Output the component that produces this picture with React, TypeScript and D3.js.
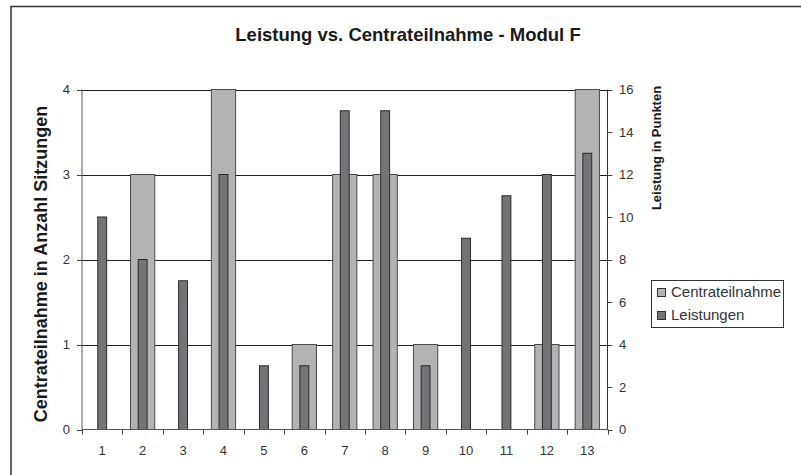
import * as d3 from 'd3';

// Module F: sessions attended vs. points achieved
const sessions = ['1', '2', '3', '4', '5', '6', '7', '8', '9', '10', '11', '12', '13'];
const centrateilnahme = [0, 3, 0, 4, 0, 1, 3, 3, 1, 0, 0, 1, 4];
const leistungen = [10, 8, 7, 12, 3, 3, 15, 15, 3, 9, 11, 12, 13];
const leftTicks = [0, 1, 2, 3, 4];
const rightTicks = [0, 2, 4, 6, 8, 10, 12, 14, 16];

const W = 801;
const H = 475;
const font = 'Liberation Sans, Arial, Helvetica, sans-serif';

const margin = { top: 89.5, left: 82, right: 607.5, bottom: 429.5 };

const App = () => {
    const x = d3.scaleBand<string>()
        .domain(sessions)
        .range([margin.left, margin.right])
        .padding(0);

    const yLeft = d3.scaleLinear().domain([0, 4]).range([margin.bottom, margin.top]);
    const yRight = d3.scaleLinear().domain([0, 16]).range([margin.bottom, margin.top]);

    const bw = x.bandwidth();
    const lightW = bw * 0.6;
    const darkW = bw * 0.22;

    return (
        <svg
            width={W}
            height={H}
            style={{ position: 'absolute', left: 0, top: 0, background: '#fff' }}
            fontFamily={font}
        >
            {/* outer chart frame */}
            <path d={`M11,${H} V6.5 H${W}`} fill="none" stroke="#333" strokeWidth={1.5} />

            <text x={408} y={41} textAnchor="middle" fontSize={18.5} fontWeight="bold" fill="#1a1a1a">
                Leistung vs. Centrateilnahme - Modul F
            </text>

            {/* gridlines */}
            {leftTicks.filter(t => t > 0).map(t => (
                <line key={t} x1={margin.left} x2={margin.right}
                    y1={Math.round(yLeft(t)) + 0.5} y2={Math.round(yLeft(t)) + 0.5}
                    stroke="#222" strokeWidth={1} />
            ))}

            {/* Centrateilnahme bars (left axis) */}
            {centrateilnahme.map((v, i) => v > 0 && (
                <rect key={'c' + i}
                    x={x(sessions[i])! + (bw - lightW) / 2}
                    y={yLeft(v)}
                    width={lightW}
                    height={yLeft(0) - yLeft(v)}
                    fill="#b3b3b6" stroke="#4a4a4a" strokeWidth={1} />
            ))}

            {/* Leistungen bars (right axis) */}
            {leistungen.map((v, i) => (
                <rect key={'l' + i}
                    x={x(sessions[i])! + (bw - darkW) / 2}
                    y={yRight(v)}
                    width={darkW}
                    height={yRight(0) - yRight(v)}
                    fill="#737478" stroke="#2a2a2a" strokeWidth={1} />
            ))}

            {/* axes */}
            <line x1={margin.left} x2={margin.left} y1={margin.top} y2={margin.bottom} stroke="#555" />
            <line x1={margin.right} x2={margin.right} y1={margin.top} y2={margin.bottom} stroke="#333" />
            <line x1={margin.left} x2={margin.right} y1={margin.bottom} y2={margin.bottom} stroke="#555" />

            {leftTicks.map(t => (
                <g key={'lt' + t}>
                    <line x1={margin.left - 5} x2={margin.left}
                        y1={Math.round(yLeft(t)) + 0.5} y2={Math.round(yLeft(t)) + 0.5} stroke="#444" />
                    <text x={70} y={yLeft(t) + 4.5} textAnchor="end" fontSize={13} fill="#333">{t}</text>
                </g>
            ))}

            {rightTicks.map(t => (
                <g key={'rt' + t}>
                    <line x1={margin.right} x2={margin.right + 5}
                        y1={Math.round(yRight(t)) + 0.5} y2={Math.round(yRight(t)) + 0.5} stroke="#444" />
                    <text x={619} y={yRight(t) + 4.5} textAnchor="start" fontSize={13} fill="#333">{t}</text>
                </g>
            ))}

            {d3.range(sessions.length + 1).map(i => {
                const tx = Math.round(margin.left + i * bw) + 0.5;
                return <line key={'xt' + i} x1={tx} x2={tx} y1={margin.bottom} y2={margin.bottom + 5} stroke="#444" />;
            })}

            {sessions.map(s => (
                <text key={'xl' + s} x={x(s)! + bw / 2} y={454.5} textAnchor="middle" fontSize={13} fill="#333">{s}</text>
            ))}

            {/* axis titles */}
            <text transform="translate(46.5,264) rotate(-90)" textAnchor="middle"
                fontSize={18} fontWeight="bold" fill="#1a1a1a">
                Centrateilnahme in Anzahl Sitzungen
            </text>
            <text transform="translate(661,148) rotate(-90)" textAnchor="middle"
                fontSize={13} fontWeight="bold" fill="#1a1a1a">
                Leistung in Punkten
            </text>

            {/* legend */}
            <rect x={651.5} y={280.5} width={132} height={47} fill="#fff" stroke="#333" />
            <rect x={657.5} y={288.5} width={8} height={8} fill="#b3b3b6" stroke="#333" />
            <text x={671} y={297} fontSize={15} fill="#333">Centrateilnahme</text>
            <rect x={657.5} y={311.5} width={8} height={8} fill="#737478" stroke="#333" />
            <text x={671} y={320} fontSize={15} fill="#333">Leistungen</text>
        </svg>
    );
};

export default App;
